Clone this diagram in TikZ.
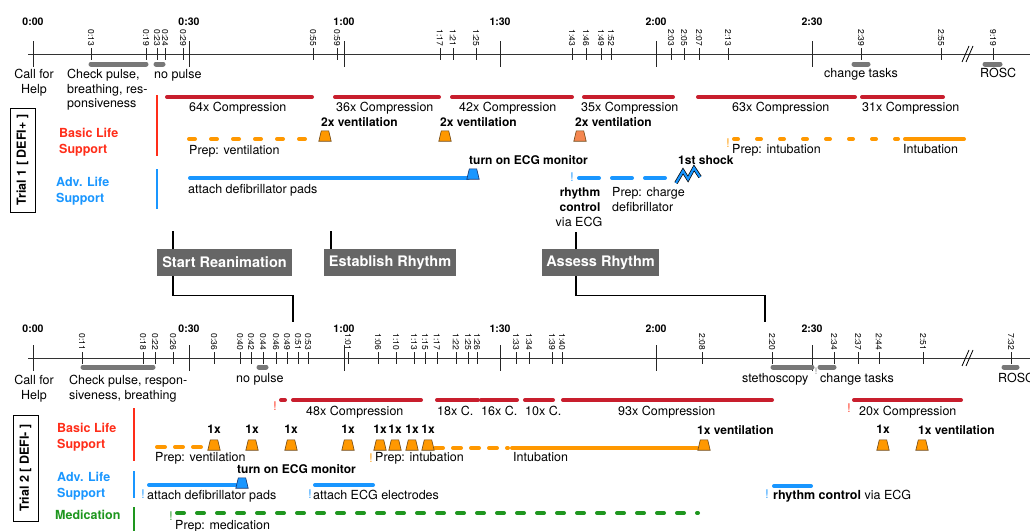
\documentclass[tikz,border=0pt]{standalone}
\usepackage{fontspec}
\setmainfont{TeX Gyre Heros}
\definecolor{bls}{RGB}{255,45,25}
\definecolor{cpr}{RGB}{200,30,45}
\definecolor{orng}{RGB}{255,152,0}
\definecolor{coral}{RGB}{245,135,80}
\definecolor{als}{RGB}{25,150,255}
\definecolor{med}{RGB}{30,150,30}
\definecolor{gbar}{RGB}{120,120,120}
\definecolor{phase}{RGB}{102,102,102}
\definecolor{vline}{RGB}{110,70,20}
\definecolor{mline}{RGB}{20,50,110}
\newcommand{\ventmk}[5]{%
  \node[inner sep=0, minimum width=12pt, minimum height=10pt] (#1) at (#2,#3) {};
  \filldraw[fill=#4, draw=#5, line width=0.6pt] (#1.south west) -- (#1.south east) -- ([xshift=-2.5pt]#1.north east) -- ([xshift=2.5pt]#1.north west) -- cycle;
}
\begin{document}
\begin{tikzpicture}[x=1pt,y=-1pt,
  axisline/.style={line width=0.9pt, black!80},
  tickst/.style={line width=0.9pt, black!85},
  majlab/.style={font=\fontsize{10.5}{12}\selectfont\bfseries, inner sep=0, anchor=base},
  minlab/.style={font=\fontsize{8.5}{9}\selectfont, inner sep=0, rotate=-90, anchor=east},
  gbarst/.style={line width=5pt, gbar, line cap=round},
  cprbar/.style={line width=4pt, cpr, line cap=round},
  lab/.style={font=\fontsize{12.5}{14}\selectfont, inner sep=0, anchor=base west},
  clab/.style={font=\fontsize{12.5}{14}\selectfont, inner sep=0, anchor=base},
  blab/.style={font=\fontsize{12}{14}\selectfont\bfseries, inner sep=0, anchor=base west},
  cblab/.style={font=\fontsize{12}{14}\selectfont\bfseries, inner sep=0, anchor=base},
  lanelab/.style={font=\fontsize{12.5}{14}\selectfont\bfseries, inner sep=0, anchor=base west},
  phasebox/.style={fill=phase, text=white, font=\fontsize{14.5}{16}\selectfont\bfseries, inner sep=0, minimum height=27pt},
  conn/.style={line width=1.1pt, black},
  excl/.style={font=\fontsize{12}{14}\selectfont, inner sep=0, anchor=base},
  lanebar/.style={line width=2.5pt},
  trialbox/.style={draw, line width=1pt, rotate=90, inner sep=0, minimum height=25pt, font=\fontsize{12.5}{14}\selectfont\bfseries},
  solidline/.style={line width=4pt, line cap=round}
]
\useasboundingbox (0,0) rectangle (1030,530);

% ================= Trial 1 timeline =================
\draw[axisline] (28,54) -- (1030,54);
\foreach \t/\x [count=\i] in {0:00/33,0:30/189,1:00/344,1:30/500,2:00/656,2:30/812}{
  \draw[tickst] (\x,41) -- (\x,67);
  \node[majlab] (aM\i) at (\x,25) {\t};
}
\foreach \t/\x [count=\i] in {0:13/91,0:19/146,0:23/157,0:24/165,0:29/183,0:55/313,0:59/337,1:17/440,1:21/453,1:25/476,1:43/572,1:46/586,1:49/601,1:52/611,2:03/671,2:05/684,2:07/699,2:13/728,2:39/861,2:55/941,9:19/993}{
  \draw[tickst] (\x,48) -- (\x,60);
  \node[minlab] (am\i) at (\x,46.5) {\t};
}
\draw[line width=0.8pt] (962,62) -- (969,46);
\draw[line width=0.8pt] (966,62) -- (973,46);
\draw[gbarst] (91,64) -- (146,64);
\draw[gbarst] (156,64) -- (163,64);
\draw[gbarst] (854,64) -- (868,64);
\draw[gbarst] (985,64) -- (1000,64);
\node[clab] (a1) at (34,78) {Call for};
\node[clab] (a2) at (34,93) {Help};
\node[lab] (a3) at (67,78) {Check pulse,};
\node[lab] (a4) at (67,93) {breathing, res-};
\node[lab] (a5) at (67,107) {ponsiveness};
\node[lab] (a6) at (154,78) {no pulse};
\node[lab] (a7) at (824,77) {change tasks};
\node[lab] (a8) at (980,77) {ROSC};

% ================= Trial 1 lanes =================
\node[trialbox, minimum width=104pt] (t1) at (22.5,160) {Trial 1 [ DEFI+ ]};
\node[lanelab, text=bls] (b1) at (59,137) {Basic Life};
\node[lanelab, text=bls] (b2) at (59,153) {Support};
\node[lanelab, text=als] (b3) at (56,186) {Adv. Life};
\node[lanelab, text=als] (b4) at (56,202) {Support};
\draw[lanebar, bls] (157,95) -- (157,156);
\draw[lanebar, als] (157,169) -- (157,209);

\draw[cprbar] (167,97) -- (312,97);
\draw[cprbar] (335,97) -- (439,97);
\draw[cprbar] (452,97) -- (572,97);
\draw[cprbar] (584,97) -- (673,97);
\draw[cprbar] (698,97) -- (855,97);
\draw[cprbar] (862,97) -- (943,97);
\node[lab] (c1) at (189,111) {64x Compression};
\node[lab] (c2) at (336,111) {36x Compression};
\node[lab] (c3) at (459,111) {42x Compression};
\node[lab] (c4) at (581,111) {35x Compression};
\node[lab] (c5) at (732,111) {63x Compression};
\node[lab] (c6) at (862,111) {31x Compression};

\draw[solidline, orng, dash pattern=on 6pt off 16pt] (189,139) -- (310,139);
\ventmk{v1}{325}{136}{orng}{vline}
\ventmk{v2}{445}{136}{orng}{vline}
\ventmk{v3}{580}{136}{coral}{vline}
\node[blab] (d1) at (321,126) {2x ventilation};
\node[blab] (d2) at (440,126) {2x ventilation};
\node[blab] (d3) at (575,126) {2x ventilation};
\node[lab] (d4) at (189,154) {Prep: ventilation};
\node[excl, text=orng] (e1) at (728,147) {!};
\draw[solidline, orng, dash pattern=on 4pt off 19pt] (734,139) -- (898,139);
\draw[solidline, orng] (905,139) -- (964,139);
\node[lab] (d5) at (732,153) {Prep: intubation};
\node[lab] (d6) at (903,153) {Intubation};

\draw[solidline, als] (190,178) -- (468,178);
\ventmk{m1}{473}{174}{als}{mline}
\node[blab] (f1) at (469,164) {turn on ECG monitor};
\node[lab] (f2) at (188,193) {attach defibrillator pads};
\node[excl, text=als] (e2) at (572,181) {!};
\draw[solidline, als, dash pattern=on 20pt off 13pt] (579,178) -- (678,178);
\draw[black, line width=3.6pt, line join=miter] (676,183) -- (683,171) -- (688,179) -- (694,168) -- (700,177);
\draw[als, line width=2.2pt, line join=miter] (676,183) -- (683,171) -- (688,179) -- (694,168) -- (700,177);
\node[blab] (f3) at (678,164) {1st shock};
\node[cblab] (f4) at (580,196) {rhythm};
\node[cblab] (f5) at (580,211) {control};
\node[clab] (f6) at (579,226) {via ECG};
\node[lab] (f7) at (612,196) {Prep: charge};
\node[lab] (f8) at (612,211) {defibrillator};

% ================= phases =================
\node[phasebox, minimum width=135pt] (sr) at (224.5,262.5) {Start Reanimation};
\node[phasebox, minimum width=132pt] (er) at (390,262.5) {Establish Rhythm};
\node[phasebox, minimum width=117pt] (ar) at (600.5,262.5) {Assess Rhythm};
\coordinate (srin) at (173,231);
\coordinate (erin) at (331,231);
\coordinate (arin) at (576,232);
\coordinate (srout) at (293,322);
\coordinate (arout) at (765,322);
\draw[conn] (srin) -- (srin |- sr.north);
\draw[conn] (erin) -- (erin |- er.north);
\draw[conn] (arin) -- (arin |- ar.north);
\draw[conn] (sr.south -| srin) -- ++(0,19) -| (srout);
\draw[conn] (ar.south -| arin) -- ++(0,19) -| (arout);

% ================= Trial 2 timeline =================
\draw[axisline] (28,358) -- (1030,358);
\foreach \t/\x [count=\i] in {0:00/33,0:30/189,1:00/344,1:30/500,2:00/656,2:30/812}{
  \draw[tickst] (\x,345) -- (\x,371);
  \node[majlab] (gM\i) at (\x,332) {\t};
}
\foreach \t/\x [count=\i] in {0:11/82,0:18/143,0:22/155,0:26/173,0:36/214,0:40/240,0:42/251,0:44/263,0:46/276,0:49/287,0:51/298,0:53/308,1:01/348,1:06/378,1:10/396,1:13/414,1:15/425,1:17/437,1:22/456,1:25/468,1:26/477,1:33/516,1:34/529,1:39/552,1:40/562,2:08/702,2:20/772,2:34/834,2:37/858,2:44/879,2:51/923,7:32/1011}{
  \draw[tickst] (\x,352) -- (\x,364);
  \node[minlab] (gm\i) at (\x,350.5) {\t};
}
\draw[line width=0.8pt] (962,366) -- (969,350);
\draw[line width=0.8pt] (966,366) -- (973,350);
\draw[gbarst] (83,367) -- (153,367);
\draw[gbarst] (259,367) -- (266,367);
\draw[gbarst] (773,367) -- (812,367);
\draw[gbarst] (820,367) -- (834,367);
\draw[gbarst] (1004,367) -- (1017,367);
\node[font=\fontsize{9}{10}\selectfont, text=gbar, inner sep=0, anchor=base] (h0) at (816,374) {!};
\node[clab] (h1) at (34,384) {Call for};
\node[clab] (h2) at (34,399) {Help};
\node[lab] (h3) at (69,384) {Check pulse, respon-};
\node[lab] (h4) at (69,399) {siveness, breathing};
\node[lab] (h5) at (236,382) {no pulse};
\node[lab] (h6) at (742,382) {stethoscopy};
\node[lab] (h7) at (820,382) {change tasks};
\node[lab] (h8) at (998,382) {ROSC};

% ================= Trial 2 lanes =================
\node[trialbox, minimum width=106pt] (t2) at (25.5,468) {Trial 2 [ DEFI- ]};
\node[lanelab, text=bls] (k1) at (57,432) {Basic Life};
\node[lanelab, text=bls] (k2) at (57,448) {Support};
\node[lanelab, text=als] (k3) at (57,481) {Adv. Life};
\node[lanelab, text=als] (k4) at (57,497) {Support};
\node[lanelab, text=med] (k5) at (55,519) {Medication};
\draw[lanebar, bls] (134,408) -- (134,461);
\draw[lanebar, als] (134,471) -- (134,498);
\draw[lanebar, med] (134,507) -- (134,535);

\node[excl, text=bls] (e3) at (275,410) {!};
\draw[cprbar] (281,400) -- (285,400);
\draw[cprbar] (293,400) -- (421,400);
\draw[cprbar] (437,400) -- (478,400);
\draw[cprbar] (481,400) -- (517,400);
\draw[cprbar] (525,400) -- (553,400);
\draw[cprbar] (563,400) -- (772,400);
\node[excl, text=bls] (e4) at (849,412) {!};
\draw[cprbar] (854,400) -- (961,400);
\node[lab] (n1) at (306,415) {48x Compression};
\node[lab] (n2) at (437,415) {18x C.};
\node[lab] (n3) at (481,415) {16x C.};
\node[lab] (n4) at (525,415) {10x C.};
\node[lab] (n5) at (618,415) {93x Compression};
\node[lab] (n6) at (859,415) {20x Compression};

\draw[solidline, orng, dash pattern=on 8pt off 10pt] (157,447) -- (205,447);
\node[lab] (p1) at (155,461) {Prep: ventilation};
\node[excl, text=orng] (e5) at (371,462) {!};
\draw[solidline, orng, dash pattern=on 8pt off 10pt] (435,448) -- (508,448);
\draw[solidline, orng] (512,448) -- (697,448);
\node[lab] (p2) at (375,461) {Prep: intubation};
\node[lab] (p3) at (513,461) {Intubation};
\foreach \x [count=\i] in {214,252,291,348,380,395,412,428,883}{
  \ventmk{w\i}{\x}{445}{orng}{vline}
  \node[cblab] (wl\i) at (\x,433) {1x};
}
\ventmk{w10}{704}{445}{orng}{vline}
\ventmk{w11}{922}{445}{orng}{vline}
\node[blab] (p4) at (697,434) {1x ventilation};
\node[blab] (p5) at (918,434) {1x ventilation};

\node[excl, text=als] (e6) at (143,498) {!};
\draw[solidline, als] (149,485) -- (236,485);
\ventmk{m2}{242}{483}{als}{mline}
\node[blab] (q1) at (237,473) {turn on ECG monitor};
\node[lab] (q2) at (147,499) {attach defibrillator pads};
\node[excl, text=als] (e7) at (310,498) {!};
\draw[solidline, als] (315,485) -- (373,485);
\node[lab] (q3) at (313,499) {attach ECG electrodes};
\node[excl, text=als] (e8) at (767,498) {!};
\draw[solidline, als] (774,486) -- (811,486);
\node[lab] (q4) at (773,499) {\textbf{rhythm control} via ECG};

\node[excl, text=med] (e9) at (171,520) {!};
\draw[solidline, med, dash pattern=on 7pt off 13pt] (177,513) -- (698,513);
\node[lab] (r1) at (175,529) {Prep: medication};
\end{tikzpicture}
\end{document}
